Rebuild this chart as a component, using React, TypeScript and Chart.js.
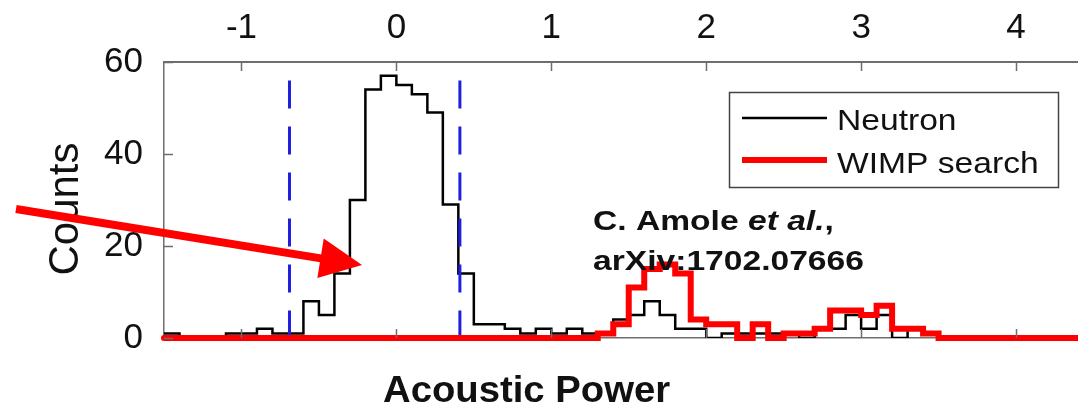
import React, { useEffect, useRef } from 'react';
import { Chart, registerables } from 'chart.js';

Chart.register(...registerables);

// ---- data ----
const binEdges = [
  -1.5, -1.4, -1.3, -1.2, -1.1, -1.0, -0.9, -0.8, -0.7, -0.6, -0.5, -0.4, -0.3, -0.2, -0.1,
  0.0, 0.1, 0.2, 0.3, 0.4, 0.5, 0.6, 0.7, 0.8, 0.9, 1.0, 1.1, 1.2, 1.3, 1.4,
  1.5, 1.6, 1.7, 1.8, 1.9, 2.0, 2.1, 2.2, 2.3, 2.4, 2.5, 2.6, 2.7, 2.8, 2.9,
  3.0, 3.1, 3.2, 3.3, 3.4, 3.5, 3.6, 3.7, 3.8, 3.9, 4.0, 4.1, 4.2, 4.3, 4.4,
];

const neutronCounts = [
  1, 0, 0, 0, 1, 1, 2, 1, 1, 8, 5, 14, 30, 54, 57,
  55, 53, 49, 29, 14, 3, 3, 2, 1, 2, 1, 2, 1, 1, 4,
  5, 8, 5, 2, 2, 0, 1, 1, 1, 1, 1, 0, 2, 2, 5,
  2, 5, 0, 2, 1, 0, 0, 0, 0, 0, 0, 0, 0, 0,
];

const wimpCounts = [
  0, 0, 0, 0, 0, 0, 0, 0, 0, 0, 0, 0, 0, 0, 0,
  0, 0, 0, 0, 0, 0, 0, 0, 0, 0, 0, 0, 0, 1, 3,
  11, 15, 16, 14, 4, 3, 3, 0, 3, 0, 1, 1, 2, 6, 6,
  5, 7, 2, 2, 1, 0, 0, 0, 0, 0, 0, 0, 0, 0,
];

const cutLow = -0.69;
const cutHigh = 0.41;
const cutTop = 56;

const xTickValues = [-1, 0, 1, 2, 3, 4];
const yTickValues = [0, 20, 40, 60];
const xMin = -1.5;
const xMax = 4.4;
const yMin = 0;
const yMax = 60;

const seriesNames = ['Neutron', 'WIMP search'];
const xTitle = 'Acoustic Power';
const yTitle = 'Counts';
const citeLine1 = ['C. Amole ', 'et al.', ','];
const citeLine2 = 'arXiv:1702.07666';

function toSteps(counts: number[]) {
  const pts = counts.map((c, i) => ({ x: binEdges[i], y: c }));
  pts.push({ x: binEdges[counts.length], y: counts[counts.length - 1] });
  return pts;
}

const AXIS_GREY = '#6e6e6e';

const decorPlugin = {
  id: 'decor',
  afterDraw(chart: any) {
    const { ctx, chartArea } = chart;
    const xs = chart.scales.x;
    const ys = chart.scales.y;
    ctx.save();

    // inward tick marks
    ctx.strokeStyle = AXIS_GREY;
    ctx.lineWidth = 1.5;
    ctx.beginPath();
    xTickValues.forEach((v) => {
      const px = Math.round(xs.getPixelForValue(v)) + 0.5;
      ctx.moveTo(px, chartArea.top);
      ctx.lineTo(px, chartArea.top + 9);
      ctx.moveTo(px, chartArea.bottom);
      ctx.lineTo(px, chartArea.bottom - 9);
    });
    yTickValues.forEach((v) => {
      const py = Math.round(ys.getPixelForValue(v)) + 0.5;
      ctx.moveTo(chartArea.left, py);
      ctx.lineTo(chartArea.left + 9, py);
    });
    ctx.stroke();

    // y axis title
    ctx.fillStyle = '#111';
    ctx.save();
    ctx.translate(78, 209);
    ctx.rotate(-Math.PI / 2);
    ctx.font = '42px "Liberation Sans", Arial, sans-serif';
    ctx.textAlign = 'center';
    ctx.textBaseline = 'alphabetic';
    ctx.fillText(yTitle, 0, 0);
    ctx.restore();

    // x axis title
    ctx.save();
    ctx.translate(383, 402);
    ctx.scale(1.063, 1);
    ctx.font = 'bold 36px "Liberation Sans", Arial, sans-serif';
    ctx.textAlign = 'left';
    ctx.textBaseline = 'alphabetic';
    ctx.fillText(xTitle, 0, 0);
    ctx.restore();

    // citation
    ctx.save();
    ctx.translate(593, 230);
    ctx.scale(1.2, 1);
    ctx.textAlign = 'left';
    ctx.textBaseline = 'alphabetic';
    let cx = 0;
    citeLine1.forEach((part, i) => {
      ctx.font = (i === 1 ? 'italic ' : '') + 'bold 28px "Liberation Sans", Arial, sans-serif';
      ctx.fillText(part, cx, 0);
      cx += ctx.measureText(part).width;
    });
    ctx.font = 'bold 28px "Liberation Sans", Arial, sans-serif';
    ctx.fillText(citeLine2, 0, 40);
    ctx.restore();

    // arrow
    const tail = { x: 16, y: 209 };
    const tip = { x: 362, y: 265 };
    const dx = tip.x - tail.x;
    const dy = tip.y - tail.y;
    const len = Math.hypot(dx, dy);
    const ux = dx / len;
    const uy = dy / len;
    const hl = 42;
    const hw = 20;
    const bx = tip.x - hl * ux;
    const by = tip.y - hl * uy;
    ctx.strokeStyle = '#ff0000';
    ctx.fillStyle = '#ff0000';
    ctx.lineWidth = 8;
    ctx.lineCap = 'butt';
    ctx.beginPath();
    ctx.moveTo(tail.x, tail.y);
    ctx.lineTo(bx + ux * 2, by + uy * 2);
    ctx.stroke();
    ctx.beginPath();
    ctx.moveTo(tip.x, tip.y);
    ctx.lineTo(bx - hw * uy, by + hw * ux);
    ctx.lineTo(bx + hw * uy, by - hw * ux);
    ctx.closePath();
    ctx.fill();

    // legend
    ctx.fillStyle = '#ffffff';
    ctx.fillRect(729, 92, 330, 96);
    ctx.strokeStyle = '#444';
    ctx.lineWidth = 1.5;
    ctx.strokeRect(729.5, 92.5, 329, 95);
    ctx.lineCap = 'butt';
    ctx.strokeStyle = '#000';
    ctx.lineWidth = 2.5;
    ctx.beginPath();
    ctx.moveTo(742, 118);
    ctx.lineTo(827, 118);
    ctx.stroke();
    ctx.strokeStyle = '#ff0000';
    ctx.lineWidth = 6;
    ctx.beginPath();
    ctx.moveTo(742, 160);
    ctx.lineTo(827, 160);
    ctx.stroke();
    ctx.fillStyle = '#111';
    ctx.font = '30px "Liberation Sans", Arial, sans-serif';
    ctx.textAlign = 'left';
    ctx.textBaseline = 'alphabetic';
    [[seriesNames[0], 130], [seriesNames[1], 173]].forEach(([t, y]) => {
      ctx.save();
      ctx.translate(837, y as number);
      ctx.scale(1.12, 1);
      ctx.fillText(t as string, 0, 0);
      ctx.restore();
    });

    ctx.restore();
  },
};

export default function App() {
  const canvasRef = useRef<HTMLCanvasElement | null>(null);

  useEffect(() => {
    document.body.style.margin = '0';
    const canvas = canvasRef.current;
    if (!canvas) return;
    const chart = new Chart(canvas, {
      type: 'line',
      data: {
        datasets: [
          {
            label: seriesNames[1],
            data: toSteps(wimpCounts),
            stepped: 'before',
            borderColor: '#ff0000',
            borderWidth: 6,
            pointRadius: 0,
            fill: false,
            borderJoinStyle: 'miter',
            borderCapStyle: 'round',
            order: 0,
            clip: false,
          },
          {
            label: 'cut-low',
            data: [{ x: cutLow, y: cutTop }, { x: cutLow, y: 0 }],
            borderColor: '#1f1fe0',
            borderWidth: 3,
            borderDash: [28, 18],
            pointRadius: 0,
            fill: false,
            order: 1,
          },
          {
            label: 'cut-high',
            data: [{ x: cutHigh, y: cutTop }, { x: cutHigh, y: 0 }],
            borderColor: '#1f1fe0',
            borderWidth: 3,
            borderDash: [28, 18],
            pointRadius: 0,
            fill: false,
            order: 1,
          },
          {
            label: seriesNames[0],
            data: toSteps(neutronCounts),
            stepped: 'before',
            borderColor: '#000000',
            borderWidth: 2.5,
            pointRadius: 0,
            fill: false,
            borderJoinStyle: 'miter',
            order: 2,
          },
        ],
      },
      options: {
        animation: false,
        responsive: false,
        maintainAspectRatio: false,
        layout: { padding: 0 },
        plugins: {
          legend: { display: false },
          tooltip: { enabled: false },
        },
        scales: {
          x: {
            type: 'linear',
            position: 'top',
            min: xMin,
            max: xMax,
            afterBuildTicks: (s: any) => {
              s.ticks = xTickValues.map((v) => ({ value: v }));
            },
            afterFit: (s: any) => {
              s.height = 62;
            },
            ticks: {
              color: '#111',
              padding: 13,
              font: { family: '"Liberation Sans", Arial, sans-serif', size: 35 },
              maxRotation: 0,
            },
            grid: { display: false, drawTicks: false },
            border: { display: true, color: AXIS_GREY, width: 2 },
          },
          x2: {
            type: 'linear',
            position: 'bottom',
            min: xMin,
            max: xMax,
            afterFit: (s: any) => {
              s.height = 70;
            },
            ticks: { display: false },
            grid: { display: false, drawTicks: false },
            border: { display: true, color: AXIS_GREY, width: 1.5 },
          },
          y: {
            type: 'linear',
            position: 'left',
            min: yMin,
            max: yMax,
            afterBuildTicks: (s: any) => {
              s.ticks = yTickValues.map((v) => ({ value: v }));
            },
            afterFit: (s: any) => {
              s.width = 164;
            },
            ticks: {
              color: '#111',
              padding: 21,
              font: { family: '"Liberation Sans", Arial, sans-serif', size: 35 },
            },
            grid: { display: false, drawTicks: false },
            border: { display: true, color: AXIS_GREY, width: 1.5 },
          },
        },
      },
      plugins: [decorPlugin],
    } as any);
    return () => chart.destroy();
  }, []);

  return (
    <div style={{ width: 1078, height: 408, background: '#fff' }}>
      <canvas ref={canvasRef} width={1078} height={408} style={{ display: 'block' }} />
    </div>
  );
}
